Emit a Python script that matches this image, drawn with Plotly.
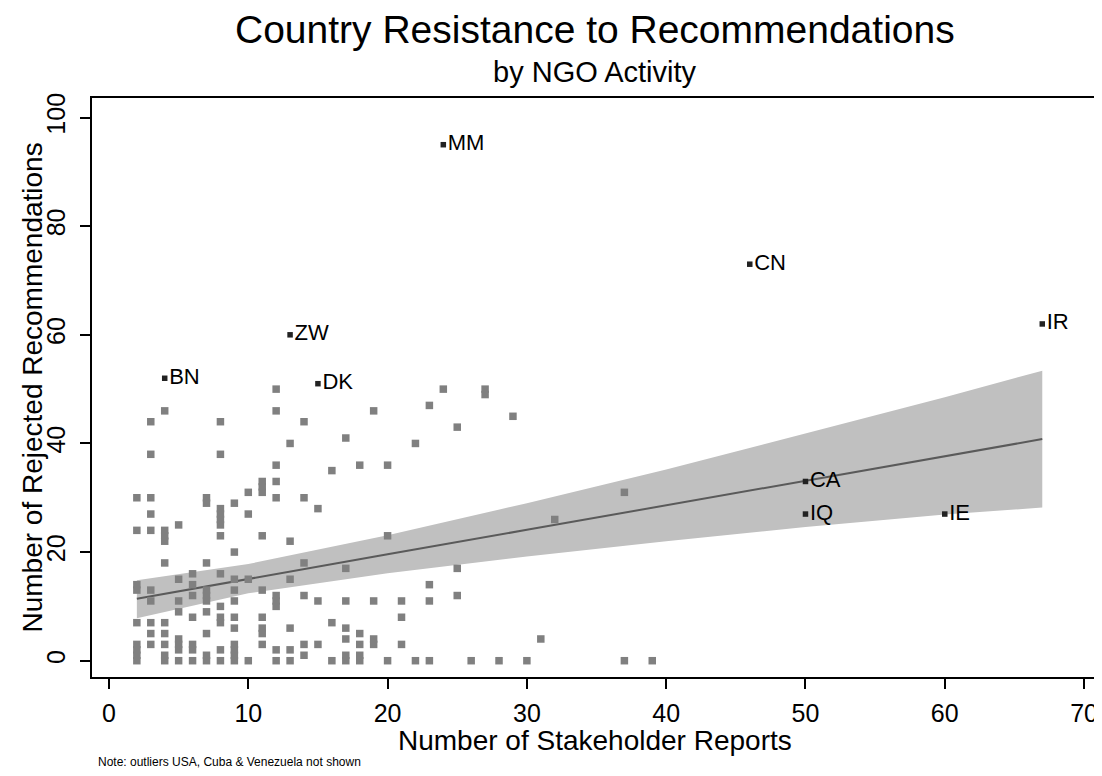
import plotly.graph_objects as go

# stakeholder reports (x) and rejected recommendations (y), unlabeled countries
reports = [2, 2, 2, 2, 2, 2, 2, 2, 2,
           3, 3, 3, 3, 3, 3, 3, 3, 3, 3,
           4, 4, 4, 4, 4, 4, 4, 4, 4, 4,
           5, 5, 5, 5, 5, 5, 5, 5,
           6, 6, 6, 6, 6, 6, 6,
           7, 7, 7, 7, 7, 7, 7, 7, 7, 7,
           8, 8, 8, 8, 8, 8, 8, 8, 8, 8, 8, 8, 8,
           9, 9, 9, 9, 9, 9, 9, 9, 9, 9, 9,
           10, 10, 10, 10,
           11, 11, 11, 11, 11, 11, 11, 11, 11,
           12, 12, 12, 12, 12, 12, 12, 12, 12, 12,
           13, 13, 13, 13, 13, 13,
           14, 14, 14, 14, 14, 14,
           15, 15, 15,
           16, 16, 16,
           17, 17, 17, 17, 17, 17, 17,
           18, 18, 18, 18, 18,
           19, 19, 19, 19,
           20, 20, 20,
           21, 21, 21,
           22, 22,
           23, 23, 23, 23,
           24,
           25, 25, 25,
           26,
           27, 27,
           28, 29, 30, 31, 32,
           37, 37,
           39]
rejected = [30, 24, 14, 13, 7, 3, 2, 1, 0,
            44, 38, 30, 27, 24, 13, 11, 7, 5, 3,
            46, 24, 23, 22, 18, 7, 5, 3, 1, 0,
            25, 15, 11, 9, 4, 3, 2, 0,
            16, 14, 12, 8, 3, 2, 0,
            30, 29, 18, 13, 12, 11, 9, 5, 1, 0,
            44, 38, 28, 27, 26, 25, 23, 16, 10, 8, 7, 2, 0,
            29, 20, 15, 13, 11, 8, 6, 3, 2, 1, 0,
            31, 27, 15, 0,
            33, 32, 31, 23, 13, 8, 6, 5, 3,
            50, 46, 36, 33, 30, 12, 11, 10, 2, 0,
            40, 22, 15, 6, 2, 0,
            44, 30, 18, 12, 3, 1,
            28, 11, 3,
            35, 7, 0,
            41, 17, 11, 6, 4, 1, 0,
            36, 5, 3, 1, 0,
            46, 11, 4, 3,
            36, 23, 0,
            11, 8, 3,
            40, 0,
            47, 14, 11, 0,
            50,
            43, 17, 12,
            0,
            50, 49,
            0, 45, 0, 4, 26,
            31, 0,
            0]

# labelled countries
lab_codes = ["MM", "CN", "IR", "ZW", "BN", "DK", "CA", "IQ", "IE"]
lab_reports = [24, 46, 67, 13, 4, 15, 50, 50, 60]
lab_rejected = [95, 73, 62, 60, 52, 51, 33, 27, 27]

# linear fit with 95% CI
fit_x = [2, 10, 20, 30, 40, 50, 60, 67]
fit_y = [11.4, 15.1, 19.6, 24.1, 28.6, 33.2, 37.7, 40.8]
ci_lo = [7.8, 12.4, 16.1, 19.2, 22.0, 24.6, 26.9, 28.2]
ci_hi = [14.8, 17.8, 23.1, 29.0, 35.2, 41.8, 48.5, 53.4]

font = "Arial, Liberation Sans, sans-serif"

fig = go.Figure()
fig.add_trace(go.Scatter(x=fit_x, y=ci_lo, mode="lines", line=dict(width=0),
                         hoverinfo="skip", showlegend=False))
fig.add_trace(go.Scatter(x=fit_x, y=ci_hi, mode="lines", line=dict(width=0),
                         fill="tonexty", fillcolor="#c0c0c0", showlegend=False))
fig.add_trace(go.Scatter(x=fit_x, y=fit_y, mode="lines",
                         line=dict(color="#5a5a5a", width=2), showlegend=False))
fig.add_trace(go.Scatter(x=reports, y=rejected, mode="markers",
                         marker=dict(symbol="square", size=7.5, color="#808080"),
                         showlegend=False))
fig.add_trace(go.Scatter(x=lab_reports, y=lab_rejected, mode="markers+text",
                         text=lab_codes, textposition="middle right",
                         textfont=dict(family=font, size=22, color="black"),
                         marker=dict(symbol="square", size=5.5, color="#222222"),
                         showlegend=False))

axis_common = dict(showline=True, linecolor="black", linewidth=1.5, mirror=True,
                   ticks="outside", ticklen=10, tickwidth=1.5, tickcolor="black",
                   showgrid=False, zeroline=False, automargin=False,
                   tickfont=dict(family=font, size=25, color="black"))

# page body has an 8px margin, so the figure is 8px smaller than the window
fig.update_layout(
    width=1094, height=768,
    margin=dict(l=84, r=4, t=90, b=99),
    paper_bgcolor="white", plot_bgcolor="white",
    font=dict(family=font, color="black"),
    xaxis=dict(range=[-1.22, 71.0], tickvals=[0, 10, 20, 30, 40, 50, 60, 70],
               ticklabelstandoff=3, **axis_common),
    yaxis=dict(range=[-3.0, 103.6], tickvals=[0, 20, 40, 60, 80, 100], tickangle=-90,
               ticklabelstandoff=5, **axis_common),
    annotations=[
        dict(text="Country Resistance to Recommendations", x=0.5, y=1.119,
             xref="paper", yref="paper", showarrow=False, yanchor="middle",
             font=dict(family=font, size=39)),
        dict(text="by NGO Activity", x=0.5, y=1.045,
             xref="paper", yref="paper", showarrow=False, yanchor="middle",
             font=dict(family=font, size=29)),
        dict(text="Number of Stakeholder Reports", x=0.5, y=-0.1105,
             xref="paper", yref="paper", showarrow=False, yanchor="middle",
             font=dict(family=font, size=28)),
        dict(text="Number of Rejected Recommendations", x=-0.0596, y=0.5,
             xref="paper", yref="paper", showarrow=False, xanchor="center",
             textangle=-90, font=dict(family=font, size=28)),
        dict(text="Note: outliers USA, Cuba & Venezuela not shown", x=(96 - 92) / 1006,
             y=-0.163, xref="paper", yref="paper", showarrow=False, xanchor="left",
             font=dict(family=font, size=12)),
    ],
)

fig.write_html("out.html")
